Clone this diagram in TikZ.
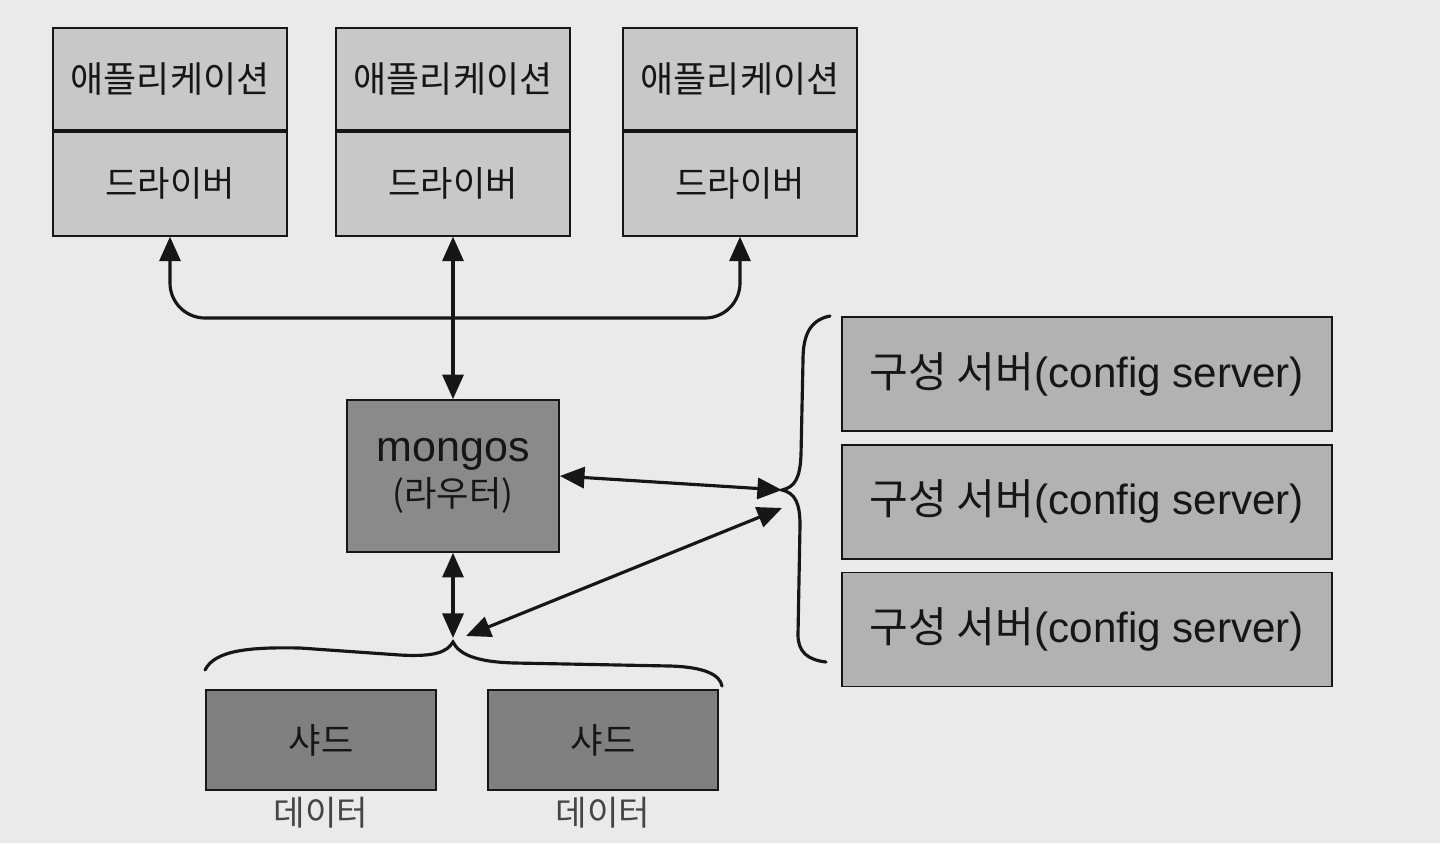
\documentclass[tikz,border=0pt]{standalone}
\usepackage{fontspec}
\setmainfont{Liberation Sans}
\newfontfamily\kr{Noto Sans CJK KR}
\usetikzlibrary{positioning,arrows.meta}

\definecolor{bgcol}{RGB}{234,234,234}
\definecolor{ink}{RGB}{22,22,22}
\definecolor{lightbox}{RGB}{200,200,200}
\definecolor{midbox}{RGB}{178,178,178}
\definecolor{darkbox}{RGB}{138,138,138}
\definecolor{shardgray}{RGB}{128,128,128}

\begin{document}
\begin{tikzpicture}[x=0.02cm, y=-0.02cm,
  >={Triangle[length=14pt,width=12pt]},
  box/.style={draw=ink, line width=1pt, inner sep=0pt, text=ink, align=center},
  appbox/.style={box, fill=lightbox, minimum width=4.68cm, minimum height=2.04cm,
                 font=\kr\fontsize{20.5}{24}\selectfont},
  drvbox/.style={appbox, minimum height=2.08cm, font=\kr\fontsize{20}{24}\selectfont},
  routerbox/.style={box, fill=darkbox, minimum width=4.24cm, minimum height=3.04cm,
                    font=\fontsize{24.5}{28}\selectfont},
  cfgbox/.style={box, fill=midbox, minimum width=9.8cm, minimum height=2.28cm,
                 font=\fontsize{24}{28}\selectfont},
  shardbox/.style={box, fill=shardgray, minimum width=4.6cm, minimum height=2cm,
                   font=\kr\fontsize{20}{24}\selectfont},
  datalbl/.style={inner sep=0pt, text=ink!80, font=\kr\fontsize{19.5}{22}\selectfont},
  link/.style={draw=ink, line width=1.8pt, <->},
  brace/.style={draw=ink, line width=1.8pt, line cap=round}
  ]

  \useasboundingbox[fill=bgcol] (0,0) rectangle (1440,843);

  %--- Applications with their drivers
  \node[appbox] (app1) at (170,79) {애플리케이션};
  \node[drvbox, below=0pt of app1] (drv1) {드라이버};

  \node[appbox] (app2) at (453,79) {애플리케이션};
  \node[drvbox, below=0pt of app2] (drv2) {드라이버};

  \node[appbox] (app3) at (740,79) {애플리케이션};
  \node[drvbox, below=0pt of app3] (drv3) {드라이버};

  %--- Router
  \node[routerbox] (mongos) at (453,476) {mongos\\[-2pt]{\kr\fontsize{20}{24}\selectfont(라우터)}};

  %--- Config servers
  \node[cfgbox] (cfg1) at (1087,374) {{\kr 구성 서버}(config server)};
  \node[cfgbox, below=0.24cm of cfg1] (cfg2) {{\kr 구성 서버}(config server)};
  \node[cfgbox, below=0.24cm of cfg2] (cfg3) {{\kr 구성 서버}(config server)};

  %--- Shards
  \node[shardbox] (shard1) at (321,740) {샤드};
  \node[shardbox] (shard2) at (603,740) {샤드};
  \node[datalbl, below=0.12cm of shard1] (data1) {데이터};
  \node[datalbl, below=0.12cm of shard2] (data2) {데이터};

  %--- Brace tips and bus line
  \coordinate (bus) at (0,318);
  \coordinate (cfgtip) at (782,490);
  \coordinate (cfgtip2) at (782,508);
  \coordinate (shtip) at (453,642);
  \coordinate (shtip2) at (466,636);

  %--- Braces
  \draw[brace] (830,316) .. controls (810,320) and (803,335) .. (803,360)
    -- (801,455) .. controls (800,478) and (795,487) .. (cfgtip)
    .. controls (795,493) and (800,503) .. (800,525)
    -- (798,635) .. controls (798,652) and (808,660) .. (826,662);

  \draw[brace] (205,670) .. controls (215,650) and (250,647) .. (300,648)
    -- (400,655) .. controls (435,657) and (447,652) .. (shtip)
    .. controls (459,654) and (475,662) .. (515,663)
    -- (670,666) .. controls (705,667) and (720,675) .. (722,686);

  %--- Connections
  \draw[link, rounded corners=0.7cm] (drv1.south) -- (drv1.south |- bus)
    -- (drv3.south |- bus) -- (drv3.south);
  \draw[link] (drv2.south) -- (mongos.north);
  \draw[link] (mongos.east) -- (cfgtip);
  \draw[link] (mongos.south) -- ([yshift=0.08cm]mongos.south |- shtip);
  \draw[link] (cfgtip2) -- (shtip2);

\end{tikzpicture}
\end{document}
